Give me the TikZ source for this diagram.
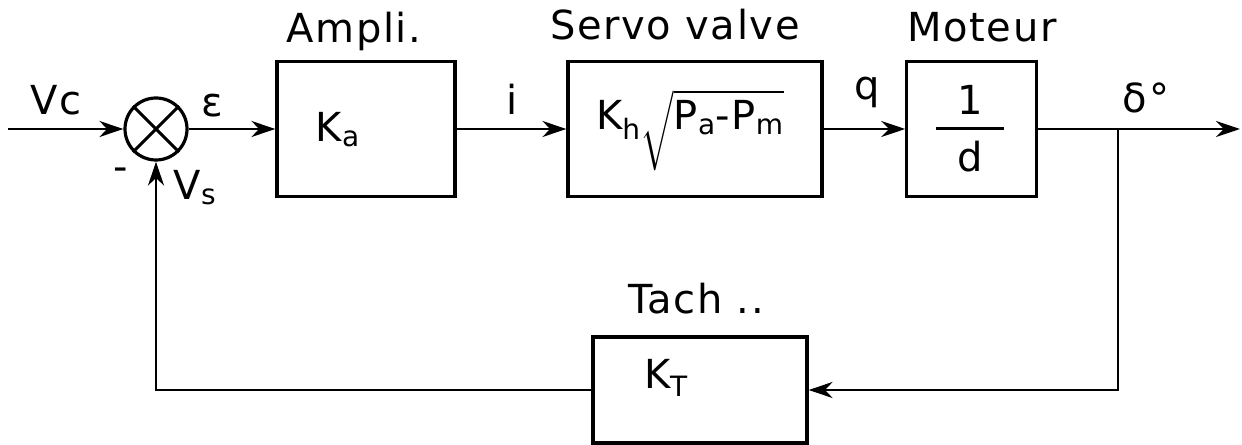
\documentclass[tikz,border=0pt]{standalone}
\usepackage{amsmath}
\usepackage{fontspec}
\setmainfont{DejaVu Sans}[LetterSpace=4]
\usetikzlibrary{arrows.meta}

\begin{document}
\begin{tikzpicture}[x=0.75pt,y=0.75pt,yscale=-1,xscale=1,
  block/.style={draw,line width=2.4pt,inner sep=0pt},
  txt/.style={font=\fontsize{30}{36}\selectfont,inner sep=0pt},
  wire/.style={line width=2.2pt},
  arr/.style={wire,-{Stealth[length=18pt,width=12pt]}}]
\useasboundingbox (0,0) rectangle (1242,445);

%Shape: Circle [comparateur]
\node [draw,circle,line width=2.4pt,minimum size=46.5pt] (sum) at (156,129) {};
\draw [wire] (sum.north west) -- (sum.south east) (sum.north east) -- (sum.south west);

%Shape: Rectangle [blocs]
\node [block,minimum width=133.5pt,minimum height=101pt] (ampli) at (366,129) {};
\node [block,minimum width=190.5pt,minimum height=101pt] (servo) at (695,129) {};
\node [block,minimum width=97pt,minimum height=101pt] (moteur) at (971.5,129) {};
\node [block,minimum width=160.5pt,minimum height=79.5pt] (tach) at (700,390) {};

% free ends
\coordinate (in) at (8,129);
\coordinate (out) at (1240,129);
\coordinate (branch) at (1118,129);

%Straight Lines
\draw [arr] (in) -- (sum.west);
\draw [arr] (sum.east) -- (ampli.west);
\draw [arr] (ampli.east) -- (servo.west);
\draw [arr] (servo.east) -- (moteur.west);
\draw [arr] (moteur.east) -- (out);
\draw [arr] (branch) |- (tach.east);
\draw [arr] (tach.west) -| (sum.south);

% Text Node
\node [txt,anchor=base] (tAmpli) at (354,43) {Ampli.};
% Text Node
\node [txt,anchor=base] (tServo) at (675,40) {Servo valve};
% Text Node
\node [txt,anchor=base] (tMoteur) at (982,42) {Moteur};
% Text Node
\node [txt,anchor=base] (tTach) at (696,313) {Tach ..};
% Text Node
\node [txt,anchor=base] (tVc) at (56,115) {Vc};
% Text Node
\node [txt,anchor=base] (tEps) at (212,117) {ε};
% Text Node
\node [txt,anchor=base] (tVs) at (195,200) {V\textsubscript{s}};
% Text Node
\node [txt] (tMinus) at (121,174) {-};
% Text Node
\node [txt,anchor=base] (tI) at (512,115) {i};
% Text Node
\node [txt,anchor=base] (tQ) at (867,100) {q};
% Text Node
\node [txt,anchor=base] (tDelta) at (1146,113) {δ°};
% Text Node
\node [txt,anchor=base] (tKa) at (338,142) {K\textsubscript{a}};
% Text Node
\node [txt,anchor=base] (tKh) at (690,130) {$\text{K}_\text{h}\sqrt{\rule[-26pt]{0pt}{48pt}\text{P}_\text{a}\text{-P}_\text{m}}$};
% Text Node
\node [txt] (tFrac) at (970,129) {${\displaystyle \makebox[1.7em]{1}\rule[-7pt]{0pt}{1pt} \above 2.2pt \makebox[1.7em]{d}\rule{0pt}{29pt}}$};
% Text Node
\node [txt,anchor=base] (tKt) at (666,388) {K\textsubscript{T}};

\end{tikzpicture}
\end{document}
